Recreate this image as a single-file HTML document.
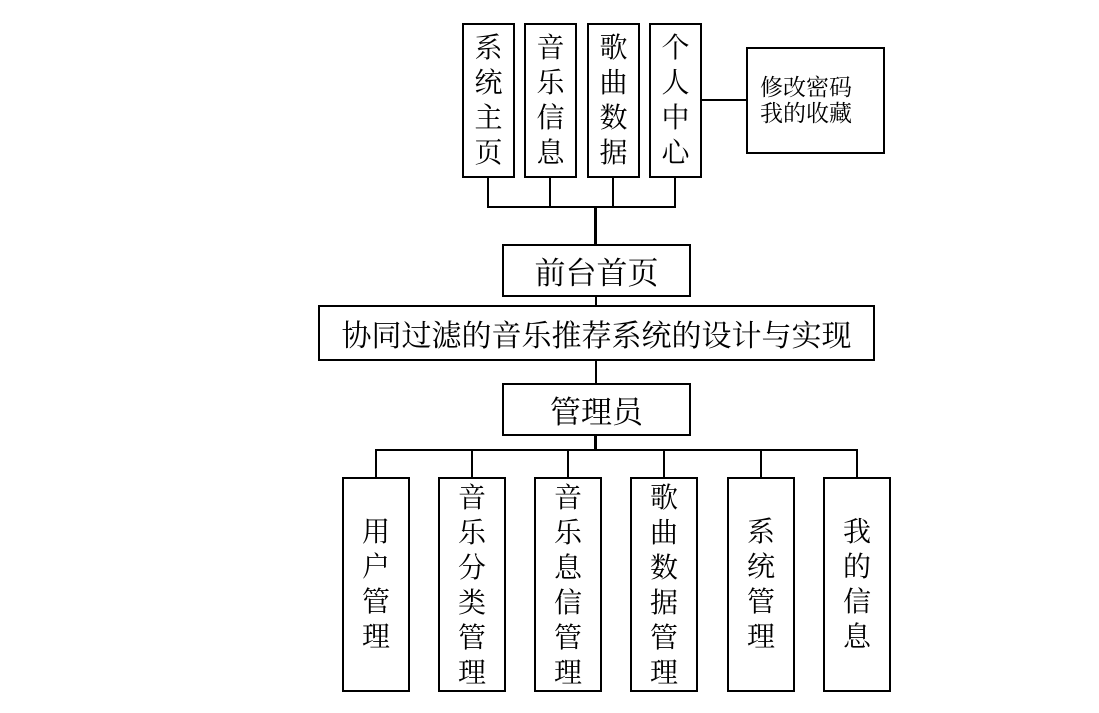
<!DOCTYPE html>
<html><head><meta charset="utf-8"><style>
body{margin:0;width:1099px;height:713px;background:#fff;position:relative;overflow:hidden;font-family:"Liberation Serif","Noto Serif CJK SC","Noto Sans CJK SC",serif;color:#000}
.b{position:absolute;border:2px solid #000;box-sizing:border-box;display:flex;align-items:center;justify-content:center;text-align:center}
.v{flex-direction:column;font-size:28px;line-height:35px;padding-top:0}
.l{position:absolute;background:#000}
</style></head><body>
<div class="b v" style="left:462px;top:23px;width:53px;height:155px">系<br>统<br>主<br>页</div>
<div class="b v" style="left:524px;top:23px;width:53px;height:155px">音<br>乐<br>信<br>息</div>
<div class="b v" style="left:587px;top:23px;width:53px;height:155px">歌<br>曲<br>数<br>据</div>
<div class="b v" style="left:649px;top:23px;width:53px;height:155px">个<br>人<br>中<br>心</div>
<div class="b" style="left:746px;top:47px;width:139px;height:107px;font-size:23px;line-height:26px;justify-content:flex-start;padding-left:12px;text-align:left">修改密码<br>我的收藏</div>
<div class="l" style="left:701px;top:99px;width:46px;height:2px"></div>
<div class="l" style="left:487px;top:177px;width:2px;height:31px"></div>
<div class="l" style="left:549px;top:177px;width:2px;height:31px"></div>
<div class="l" style="left:612px;top:177px;width:2px;height:31px"></div>
<div class="l" style="left:674px;top:177px;width:2px;height:31px"></div>
<div class="l" style="left:487px;top:206px;width:189px;height:2px"></div>
<div class="l" style="left:594px;top:206px;width:3px;height:39px"></div>
<div class="b" style="left:502px;top:244px;width:189px;height:53px;font-size:31px">前台首页</div>
<div class="l" style="left:595px;top:296px;width:2px;height:10px"></div>
<div class="b" style="left:318px;top:305px;width:557px;height:56px;font-size:30px">协同过滤的音乐推荐系统的设计与实现</div>
<div class="l" style="left:595px;top:360px;width:2px;height:24px"></div>
<div class="b" style="left:502px;top:383px;width:189px;height:53px;font-size:31px">管理员</div>
<div class="l" style="left:594px;top:435px;width:3px;height:16px"></div>
<div class="l" style="left:375px;top:449px;width:483px;height:2px"></div>
<div class="l" style="left:375px;top:449px;width:2px;height:29px"></div>
<div class="l" style="left:471px;top:449px;width:2px;height:29px"></div>
<div class="l" style="left:567px;top:449px;width:2px;height:29px"></div>
<div class="l" style="left:663px;top:449px;width:2px;height:29px"></div>
<div class="l" style="left:760px;top:449px;width:2px;height:29px"></div>
<div class="l" style="left:856px;top:449px;width:2px;height:29px"></div>
<div class="b v" style="left:342px;top:477px;width:68px;height:215px">用<br>户<br>管<br>理</div>
<div class="b v" style="left:438px;top:477px;width:68px;height:215px;padding-top:2px">音<br>乐<br>分<br>类<br>管<br>理</div>
<div class="b v" style="left:534px;top:477px;width:68px;height:215px;padding-top:2px">音<br>乐<br>息<br>信<br>管<br>理</div>
<div class="b v" style="left:630px;top:477px;width:68px;height:215px;padding-top:2px">歌<br>曲<br>数<br>据<br>管<br>理</div>
<div class="b v" style="left:727px;top:477px;width:68px;height:215px">系<br>统<br>管<br>理</div>
<div class="b v" style="left:823px;top:477px;width:68px;height:215px">我<br>的<br>信<br>息</div>
</body></html>
